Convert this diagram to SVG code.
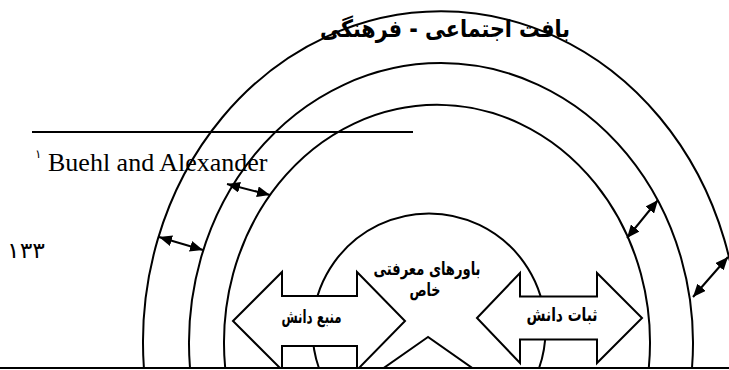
<svg xmlns="http://www.w3.org/2000/svg" width="729" height="370" viewBox="0 0 729 370">
<style>
.ln{fill:none;stroke:#000;stroke-width:2}
.blk{fill:#fff;stroke:#000;stroke-width:2;stroke-linejoin:miter}
.fa{font-family:"DejaVu Sans",sans-serif;font-weight:bold;fill:#000;text-anchor:middle}
.en{font-family:"Liberation Serif","Times New Roman",serif;fill:#000}
.con{fill:none;stroke:#000;stroke-width:2;marker-start:url(#ah);marker-end:url(#ah)}
</style>
<defs>
<marker id="ah" viewBox="0 0 13 11" markerWidth="13" markerHeight="11" refX="13" refY="5.5" orient="auto-start-reverse" markerUnits="userSpaceOnUse">
<path d="M0,0 L13,5.5 L0,11 Z" fill="#000"/>
</marker>
<clipPath id="clip"><rect x="0" y="0" width="729" height="368"/></clipPath>
</defs>
<rect width="729" height="370" fill="#fff"/>

<g id="layer-outer">
<path class="ln" d="M143.9,368 A298,331 0 1 1 738.1,368"/>
</g>
<g id="layer-middle">
<path class="ln" d="M190,368 A252,280 0 1 1 692,368"/>
</g>
<g id="layer-inner">
<path class="ln" d="M225.2,368 A213,238 0 1 1 648.8,368"/>
</g>
<g id="core">
<path class="ln" d="M318.9,368 A116.5,116.5 0 1 1 539.1,368"/>
</g>

<g id="block-arrows" clip-path="url(#clip)">
<g id="source">
<polygon class="blk" points="233,321 282,272 282,296 357,296 357,272 405,321 357,370 357,346 282,346 282,370"/>
</g>
<g id="stability">
<polygon class="blk" points="477,318 520,273 520,296.5 597,296.5 597,273 642,318 597,363 597,339.5 520,339.5 520,363"/>
</g>
<g id="up-arrow">
<polygon class="blk" points="428,337 378,372 478,372"/>
</g>
</g>

<g id="labels">
<text class="fa" x="445" y="37" font-size="24" direction="rtl" textLength="250" lengthAdjust="spacingAndGlyphs">بافت اجتماعی - فرهنگی</text>
<text class="fa" x="427" y="275" font-size="18" direction="rtl" textLength="107" lengthAdjust="spacingAndGlyphs">باورهای معرفتی</text>
<text class="fa" x="425" y="296" font-size="18" direction="rtl" textLength="31" lengthAdjust="spacingAndGlyphs">خاص</text>
<text class="fa" x="311.5" y="323" font-size="18" direction="rtl" textLength="60" lengthAdjust="spacingAndGlyphs">منبع دانش</text>
<text class="fa" x="562" y="321" font-size="18" direction="rtl" textLength="71" lengthAdjust="spacingAndGlyphs">ثبات دانش</text>
</g>

<g id="footnote">
<line x1="32" y1="132" x2="413" y2="132" stroke="#000" stroke-width="2"/>
<text x="35" y="158" font-size="12" font-family="DejaVu Sans,sans-serif" fill="#000">١</text>
<text class="en" x="48" y="171" font-size="26">Buehl and Alexander</text>
<text x="7" y="258" font-size="22" font-family="DejaVu Sans,sans-serif" fill="#000" textLength="38" lengthAdjust="spacingAndGlyphs">١٣٣</text>
<line x1="0" y1="368" x2="729" y2="368" stroke="#000" stroke-width="2"/>
</g>

<g id="connectors">
<path class="con" d="M159,237 L203,250"/>
<path class="con" d="M227,184 L270,195"/>
<path class="con" d="M627,238 L658,200"/>
<path class="con" d="M693,297 L728,257"/>
</g>
</svg>
